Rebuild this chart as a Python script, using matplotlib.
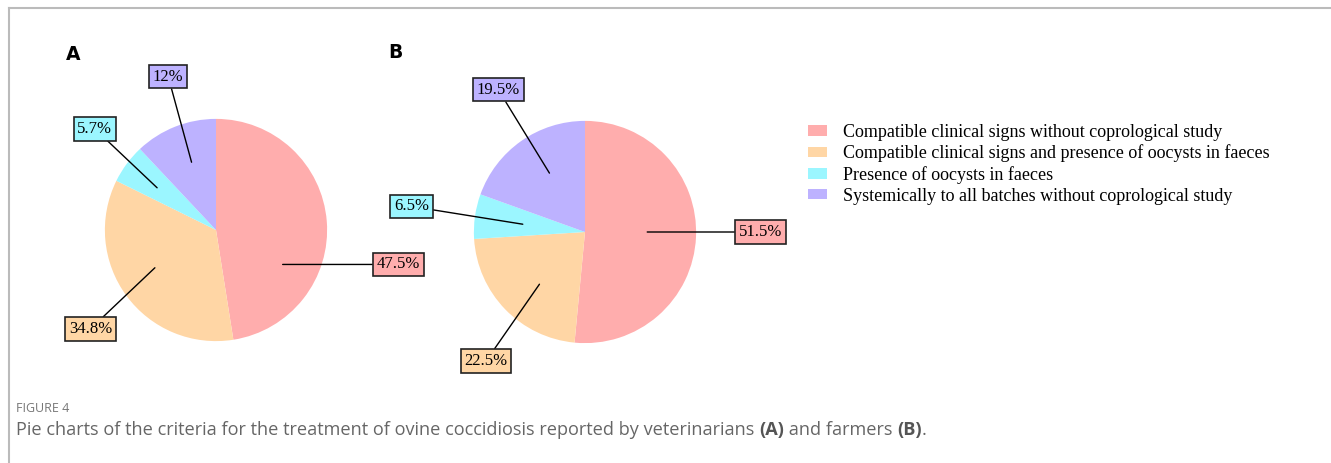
import matplotlib.pyplot as plt
from matplotlib.patches import Patch
from matplotlib.lines import Line2D

categories = ['Compatible clinical signs without coprological study',
              'Compatible clinical signs and presence of oocysts in faeces',
              'Presence of oocysts in faeces',
              'Systemically to all batches without coprological study']
vets = [47.5, 34.8, 5.7, 12.0]
farmers = [51.5, 22.5, 6.5, 19.5]
vet_labels = ['47.5%', '34.8%', '5.7%', '12%']
farmer_labels = ['51.5%', '22.5%', '6.5%', '19.5%']
colors = ['#FFADAD', '#FFD6A5', '#9BF6FF', '#BDB2FF']

# label layout: (line start inside pie, box centre), in pie-radius units
vet_pos = [((0.60, -0.31), (1.64, -0.31)), ((-0.55, -0.34), (-1.13, -0.89)),
           ((-0.53, 0.38), (-1.09, 0.91)), ((-0.22, 0.61), (-0.43, 1.38))]
farmer_pos = [((0.56, 0.0), (1.58, 0.0)), ((-0.41, -0.47), (-0.89, -1.16)),
              ((-0.56, 0.07), (-1.56, 0.23)), ((-0.32, 0.53), (-0.78, 1.28))]

W, H = 1331, 463
fig = plt.figure(figsize=(W / 100, H / 100), dpi=100)
serif = ['Liberation Serif', 'DejaVu Serif']


def draw_pie(cx, cy, values, labels, pos):
    s = 300
    ax = fig.add_axes([(cx - s / 2) / W, (H - cy - s / 2) / H, s / W, s / H])
    ax.pie(values, colors=colors, startangle=90, counterclock=False,
           radius=1, wedgeprops=dict(linewidth=0))
    ax.set_xlim(-1.35, 1.35)
    ax.set_ylim(-1.35, 1.35)
    ax.set_aspect('equal')
    ax.axis('off')
    for lab, col, (p0, p1) in zip(labels, colors, pos):
        ax.annotate(lab, xy=p0, xytext=p1, ha='center', va='center',
                    family=serif, fontsize=12, annotation_clip=False,
                    bbox=dict(boxstyle='square,pad=0.22', fc=col, ec='#222222', lw=1.2),
                    arrowprops=dict(arrowstyle='-', color='black', lw=1,
                                    shrinkA=0, shrinkB=0))
    return ax


draw_pie(216, 230, vets, vet_labels, vet_pos)
draw_pie(585, 232, farmers, farmer_labels, farmer_pos)

fig.text(73 / W, 1 - 55 / H, 'A', fontsize=13.5, fontweight='bold', ha='center', va='center')
fig.text(395 / W, 1 - 53 / H, 'B', fontsize=13.5, fontweight='bold', ha='center', va='center')

handles = [Patch(facecolor=c, edgecolor='none') for c in colors]
fig.legend(handles, categories, loc='upper left', bbox_to_anchor=(808 / W, 1 - 124 / H),
           frameon=False, prop={'family': serif, 'size': 13},
           handlelength=1.05, handleheight=0.5, handletextpad=0.9, labelspacing=0.2,
           borderpad=0, borderaxespad=0)

# frame lines
fig.add_artist(Line2D([9 / W, 1], [1 - 8 / H, 1 - 8 / H], color='#bbbbbb', lw=1.5))
fig.add_artist(Line2D([9 / W, 9 / W], [0, 1 - 8 / H], color='#bbbbbb', lw=1.5))

# caption
fig.text(16 / W, 1 - 408 / H, 'FIGURE 4', fontsize=9, color='#777777',
         family='Open Sans', va='center')
prev = fig.text(16 / W, 1 - 430 / H,
                'Pie charts of the criteria for the treatment of ovine coccidiosis reported by veterinarians ',
                fontsize=13.1, color='#666666', family='Open Sans', va='center')
parts = [('(A)', 'bold'), (' and farmers ', 'normal'), ('(B)', 'bold'), ('.', 'normal')]
for txt, wt in parts:
    prev = fig.add_artist(plt.Annotation(
        txt, xy=(1, 0.5), xycoords=prev, va='center', ha='left', fontsize=13.1,
        color='#555555' if wt == 'bold' else '#666666', family='Open Sans',
        fontweight=wt, annotation_clip=False))

fig.savefig('out.png', dpi=100)
